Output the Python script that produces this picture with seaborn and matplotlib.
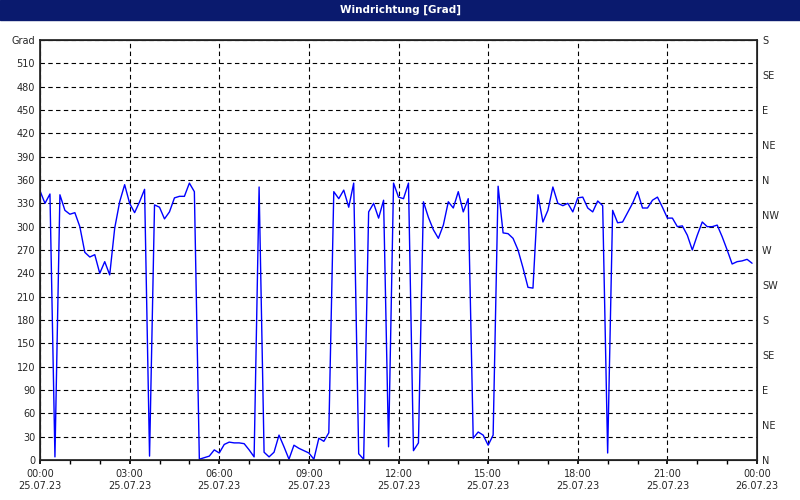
import matplotlib
matplotlib.use("Agg")
import matplotlib.pyplot as plt
import seaborn as sns
import pandas as pd
import numpy as np

sns.set_theme(style="white")
plt.rcParams['font.family'] = ['DejaVu Sans']

# wind direction every 10 minutes from 00:00
values = [346,330,342,4,341,321,316,318,300,267,261,264,240,255,238,298,332,354,330,318,
          332,348,5,328,325,310,319,337,339,339,356,345,1,3,5,13,9,20,23,22,
          22,21,13,4,351,10,4,10,32,17,1,19,15,12,9,1,28,24,35,345,
          336,347,325,356,8,1,319,330,311,334,17,356,338,336,356,12,22,332,312,296,
          285,302,332,324,345,319,336,28,36,32,19,32,352,292,291,285,270,247,222,221,
          341,306,321,351,330,327,330,319,337,338,324,319,333,327,9,321,305,306,318,330,
          345,324,324,334,338,325,311,311,300,301,289,270,289,306,300,300,302,287,270,252,
          255,256,258,253]
hours = [i / 6 for i in range(len(values))]
df = pd.DataFrame({"hour": hours, "deg": values})

left_ticks = list(range(0, 541, 30))
left_labels = [str(t) for t in left_ticks[:-1]] + ["Grad"]
right_ticks = list(range(0, 541, 45))
right_labels = ["N", "NE", "E", "SE", "S", "SW", "W", "NW", "N", "NE", "E", "SE", "S"]
x_ticks = list(range(0, 25, 3))
x_labels = [f"{h:02d}:00\n25.07.23" for h in range(0, 24, 3)] + ["00:00\n26.07.23"]

fig = plt.figure(figsize=(8, 5), dpi=100)
fig.patch.set_facecolor("white")
fig.patches.append(plt.Rectangle((0, 0.96), 1, 0.04, transform=fig.transFigure,
                                 color="#0a1a6e", zorder=0))
fig.text(0.5, 0.98, "Windrichtung [Grad]", color="white", fontsize=7.5,
         fontweight="bold", ha="center", va="center")

ax = fig.add_axes([0.05, 0.08, 0.8963, 0.84])
sns.lineplot(data=df, x="hour", y="deg", ax=ax, color="#0000ff", linewidth=1)
ax.set_xlim(0, 24)
ax.set_ylim(0, 540)
ax.set_yticks(left_ticks)
ax.set_yticklabels(left_labels, fontsize=7)
ax.set_xticks(x_ticks)
ax.set_xticklabels(x_labels, fontsize=7)
ax.set_xticks(range(25), minor=True)
ax.tick_params(axis="x", which="both", direction="out", length=3, color="black", bottom=True)
ax.tick_params(axis="y", length=0)
ax.set_xlabel("")
ax.set_ylabel("")
ax.grid(True, which="major", color="black", linestyle=(0, (4, 3)), linewidth=0.8)
for s in ax.spines.values():
    s.set_color("black")
    s.set_linewidth(0.8)

ax2 = ax.twinx()
ax2.set_ylim(0, 540)
ax2.set_yticks(right_ticks)
ax2.set_yticklabels(right_labels, fontsize=7)
ax2.tick_params(axis="y", length=0)
ax2.grid(False)

fig.savefig("out.png", dpi=100)
